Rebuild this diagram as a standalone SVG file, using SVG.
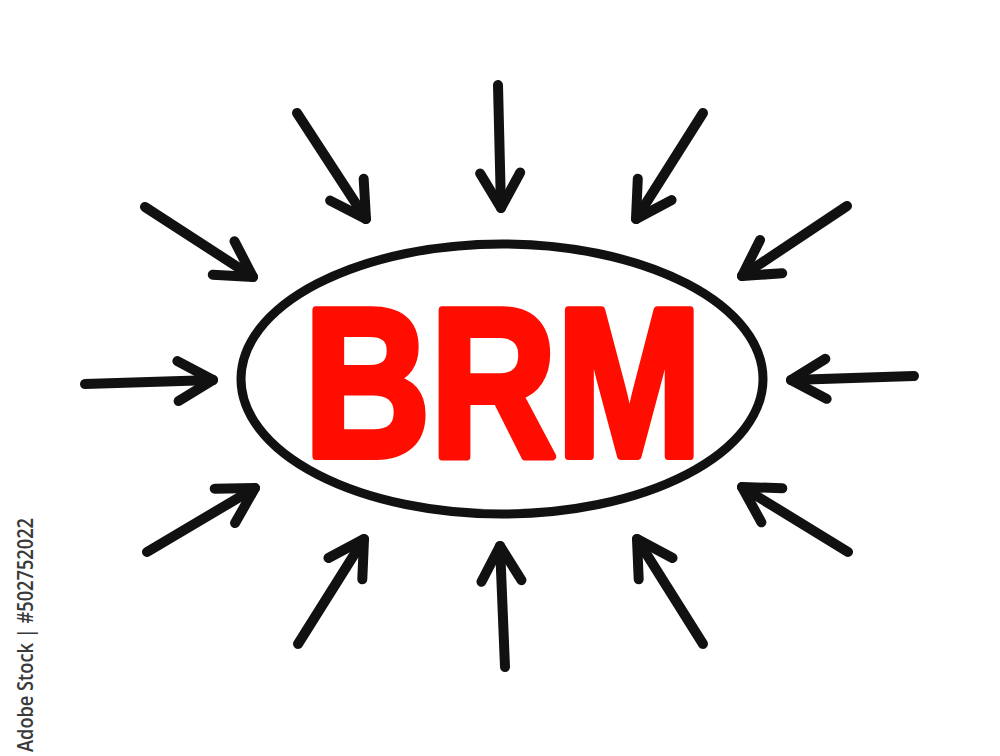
<svg xmlns="http://www.w3.org/2000/svg" width="1000" height="756" viewBox="0 0 1000 756">
<style>
.arr{stroke:#111;stroke-width:10;stroke-linecap:round;fill:none}
.head{stroke:#111;stroke-width:10;stroke-linecap:round;stroke-linejoin:round;fill:none}
.lbl{font-family:"Liberation Sans",Arial,sans-serif;font-weight:bold;fill:#ff0d00;stroke:#ff0d00;stroke-width:8;stroke-linejoin:round}
.credit{font-family:"Open Sans","Noto Sans",sans-serif;font-weight:600;fill:#3a3a3a}
</style>
<defs>
<marker id="ah" viewBox="-42 -26 50 52" markerWidth="50" markerHeight="52" refX="0" refY="0" markerUnits="userSpaceOnUse" orient="auto">
<path class="head" d="M-35,-20 L0,0 L-35,20"/>
</marker>
</defs>
<rect width="1000" height="756" fill="#fff"/>
<g id="node-brm">
<ellipse cx="502" cy="379" rx="261" ry="135" fill="none" stroke="#111" stroke-width="9"/>
<text class="lbl" x="304" y="456" font-size="212" textLength="398" lengthAdjust="spacingAndGlyphs">BRM</text>
</g>
<g id="connectors">
<path class="arr" marker-end="url(#ah)" d="M297,113 L366,219"/>
<path class="arr" marker-end="url(#ah)" d="M498,85 L501,208"/>
<path class="arr" marker-end="url(#ah)" d="M703,113 L636,219"/>
<path class="arr" marker-end="url(#ah)" d="M847,206 L742,276"/>
<path class="arr" marker-end="url(#ah)" d="M914,376 L791,380"/>
<path class="arr" marker-end="url(#ah)" d="M848,552 L742,487"/>
<path class="arr" marker-end="url(#ah)" d="M703,644 L637,539"/>
<path class="arr" marker-end="url(#ah)" d="M505,667 L500,546"/>
<path class="arr" marker-end="url(#ah)" d="M298,644 L364,539"/>
<path class="arr" marker-end="url(#ah)" d="M147,552 L255,488"/>
<path class="arr" marker-end="url(#ah)" d="M85,384 L213,380"/>
<path class="arr" marker-end="url(#ah)" d="M145,207 L253,277"/>
</g>
<text class="credit" transform="translate(33,752) rotate(-90)" font-size="21" textLength="234" lengthAdjust="spacingAndGlyphs">Adobe Stock | #502752022</text>
</svg>
